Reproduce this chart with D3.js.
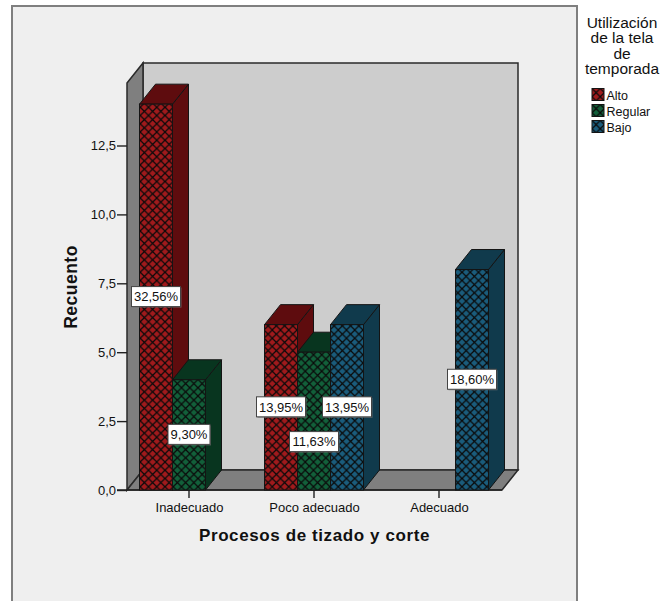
<!DOCTYPE html>
<html lang="es">
<head>
<meta charset="utf-8">
<script src="https://cdn.jsdelivr.net/npm/d3@7/dist/d3.min.js"></script>
<style>
html,body{margin:0;padding:0;background:#fff}
svg{display:block}
text{font-family:"Liberation Sans",Arial,sans-serif;fill:#111}
</style>
</head>
<body>
<svg id="chart" width="661" height="601"></svg>
<script>
// Survey counts per cutting-process rating, split by fabric usage level
const categories = ["Inadecuado", "Poco adecuado", "Adecuado"];
const seriesNames = ["Alto", "Regular", "Bajo"];
const altoValues = [14, 6, 0];
const regularValues = [4, 5, 0];
const bajoValues = [0, 6, 8];
const altoLabels = ["32,56%", "13,95%", null];
const regularLabels = ["9,30%", "11,63%", null];
const bajoLabels = [null, "13,95%", "18,60%"];
const yTicks = [0, 2.5, 5, 7.5, 10, 12.5];
const legendTitle = ["Utilización", "de la tela", "de", "temporada"];
const frontColors = ["#a01a1c", "#12603a", "#1a5c7c"];
const sideColors = ["#5e0c0e", "#08351f", "#103a4c"];

const svg = d3.select("#chart");
const depth = {x: 16, y: -20};
const plot = {left: 127, right: 502, bottom: 490, top: 83};

const y = d3.scaleLinear().domain([0, 12.5]).range([plot.bottom, 145.5]);
const x0 = d3.scaleBand().domain(categories).range([plot.left, plot.right]);
const slotWidth = 33;
const x1 = d3.scaleBand().domain(seriesNames)
  .range([0, slotWidth * seriesNames.length]);
const groupStart = c => x0(c) + (x0.bandwidth() - x1.range()[1]) / 2 - 0.5;

// Cross-hatch fills
const defs = svg.append("defs");
seriesNames.forEach((name, i) => {
  const p = defs.append("pattern")
    .attr("id", "hatch" + i)
    .attr("patternUnits", "userSpaceOnUse")
    .attr("width", 8.25).attr("height", 8.25);
  p.append("rect").attr("width", 8.25).attr("height", 8.25).attr("fill", frontColors[i]);
  p.append("path")
    .attr("d", "M0,0L8.25,8.25M8.25,0L0,8.25")
    .attr("stroke", "#0a0a0a").attr("stroke-width", 1.25).attr("fill", "none");
});

// Chart area
svg.append("rect").attr("x", 12).attr("y", 6).attr("width", 565).attr("height", 600)
  .attr("fill", "#efefef").attr("stroke", "#7f7f7f").attr("stroke-width", 2);

// 3D box: back wall, left wall, floor
const line = d3.line();
const backX = plot.left + depth.x, backTop = plot.top + depth.y, backBottom = plot.bottom + depth.y;
const wallStroke = "#2a2a2a";
svg.append("path")
  .attr("d", line([[backX, backTop], [plot.right + depth.x, backTop], [plot.right + depth.x, backBottom], [backX, backBottom]]) + "Z")
  .attr("fill", "#cdcdcd").attr("stroke", wallStroke).attr("stroke-width", 1.5);
svg.append("path")
  .attr("d", line([[plot.left, plot.top], [backX, backTop], [backX, backBottom], [plot.left, plot.bottom]]) + "Z")
  .attr("fill", "#7f7f7f").attr("stroke", wallStroke).attr("stroke-width", 1.5);
svg.append("path")
  .attr("d", line([[plot.left, plot.bottom], [backX, backBottom], [plot.right + depth.x, backBottom], [plot.right, plot.bottom]]) + "Z")
  .attr("fill", "#7f7f7f").attr("stroke", wallStroke).attr("stroke-width", 1.5);

// Value axis
const yAxis = svg.append("g").attr("transform", `translate(${plot.left},0)`)
  .call(d3.axisLeft(y).tickValues(yTicks).tickSize(10).tickPadding(1)
    .tickFormat(d => d3.format(".1f")(d).replace(".", ",")));
yAxis.select(".domain").remove();
yAxis.selectAll("line").attr("stroke", "#222").attr("stroke-width", 1.4);
yAxis.selectAll("text").attr("font-size", 13).style("fill", "#111");

// Category axis
const xAxis = svg.append("g").attr("transform", `translate(0,${plot.bottom})`)
  .call(d3.axisBottom(x0).tickSize(8).tickPadding(5));
xAxis.select(".domain").remove();
xAxis.selectAll("line").attr("stroke", "#222").attr("stroke-width", 1.4)
  .attr("transform", "translate(-0.5,0)");
xAxis.selectAll("text").attr("font-size", 13).style("fill", "#111");
svg.append("line").attr("x1", plot.left - 10).attr("x2", plot.right)
  .attr("y1", plot.bottom).attr("y2", plot.bottom)
  .attr("stroke", "#222").attr("stroke-width", 1.5);

// Bars, each a front face with top and side faces
const valueSets = [altoValues, regularValues, bajoValues];
const labelSets = [altoLabels, regularLabels, bajoLabels];
const bars = [];
categories.forEach((c, ci) => seriesNames.forEach((s, si) => {
  bars.push({c, s, si, value: valueSets[si][ci], label: labelSets[si][ci]});
}));
const barStroke = "#141414";
const drawn = bars.filter(d => d.value > 0);
const barG = svg.append("g").selectAll("g").data(drawn).join("g");
barG.append("path")
  .attr("d", d => {
    const l = groupStart(d.c) + x1(d.s), r = l + x1.bandwidth(), t = y(d.value), b = y(0);
    return line([[r, t], [r + depth.x, t + depth.y], [r + depth.x, b + depth.y], [r, b]]) + "Z";
  })
  .attr("fill", d => sideColors[d.si]).attr("stroke", barStroke);
barG.append("path")
  .attr("d", d => {
    const l = groupStart(d.c) + x1(d.s), r = l + x1.bandwidth(), t = y(d.value);
    return line([[l, t], [l + depth.x, t + depth.y], [r + depth.x, t + depth.y], [r, t]]) + "Z";
  })
  .attr("fill", d => sideColors[d.si]).attr("stroke", barStroke);
barG.append("rect")
  .attr("x", d => groupStart(d.c) + x1(d.s))
  .attr("y", d => y(d.value))
  .attr("width", x1.bandwidth())
  .attr("height", d => y(0) - y(d.value))
  .attr("fill", d => `url(#hatch${d.si})`).attr("stroke", barStroke);

// Percentage callouts; the Regular label in the middle group sits lower to clear its neighbours
const labelShift = d => (d.c === "Poco adecuado" && d.s === "Regular") ? 21 : 0;
const boxWidth = d => d.label.length > 5 ? 49 : 42;
const labelG = svg.append("g").selectAll("g").data(drawn.filter(d => d.label)).join("g")
  .attr("transform", d => {
    const cx = groupStart(d.c) + x1(d.s) + x1.bandwidth() / 2;
    return `translate(${cx},${y(d.value / 2) + labelShift(d)})`;
  });
labelG.append("rect")
  .attr("x", d => -boxWidth(d) / 2 + 1).attr("y", -9.5)
  .attr("width", boxWidth).attr("height", 20)
  .attr("fill", "#777").attr("opacity", 0.7);
labelG.append("rect")
  .attr("x", d => -boxWidth(d) / 2).attr("y", -10.5)
  .attr("width", boxWidth).attr("height", 20)
  .attr("fill", "#fff").attr("stroke", "#444").attr("stroke-width", 1);
labelG.append("text").attr("text-anchor", "middle").attr("dy", "0.33em")
  .attr("font-size", 13).text(d => d.label);

// Axis titles
svg.append("text").attr("x", 314.5).attr("y", 541).attr("text-anchor", "middle")
  .attr("font-size", 17).attr("font-weight", "bold").attr("letter-spacing", 0.6)
  .text("Procesos de tizado y corte");
svg.append("text").attr("transform", "translate(77,287) rotate(-90)").attr("text-anchor", "middle")
  .attr("font-size", 17.5).attr("font-weight", "bold").attr("letter-spacing", 0.5).text("Recuento");

// Legend
svg.append("g").selectAll("text").data(legendTitle).join("text")
  .attr("x", 622).attr("y", (d, i) => 28 + i * 15.4).attr("text-anchor", "middle")
  .attr("font-size", 15.5).text(d => d);
const legendRow = svg.append("g").selectAll("g").data(seriesNames).join("g")
  .attr("transform", (d, i) => `translate(592,${88.5 + i * 16})`);
legendRow.append("rect").attr("width", 12).attr("height", 12)
  .attr("fill", (d, i) => `url(#hatch${i})`).attr("stroke", "#141414");
legendRow.append("text").attr("x", 14.5).attr("y", 11).attr("font-size", 12.5).text(d => d);
</script>
</body>
</html>
